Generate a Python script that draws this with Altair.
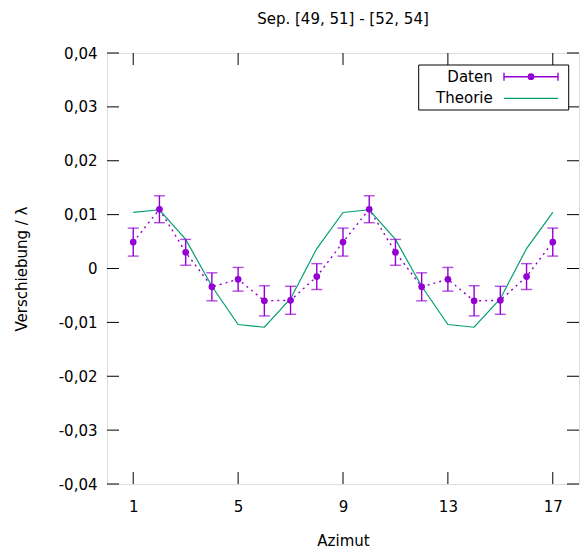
import altair as alt
import pandas as pd

# ---- data ----
azimut = list(range(1, 18))
daten = [0.0049, 0.0110, 0.0030, -0.0034, -0.0020, -0.0060, -0.0059, -0.0015,
         0.0049, 0.0110, 0.0030, -0.0034, -0.0020, -0.0060, -0.0059, -0.0015, 0.0049]
fehler = [0.0026, 0.0025, 0.0024, 0.0026, 0.0022, 0.0028, 0.0026, 0.0024,
          0.0026, 0.0025, 0.0024, 0.0026, 0.0022, 0.0028, 0.0026, 0.0024, 0.0026]
theorie = [0.0104, 0.0109, 0.0054, -0.0033, -0.0104, -0.0109, -0.0056, 0.0037,
           0.0104, 0.0109, 0.0054, -0.0033, -0.0104, -0.0109, -0.0056, 0.0037, 0.0104]
x_ticks = [1, 5, 9, 13, 17]
y_ticks = [-0.04, -0.03, -0.02, -0.01, 0.0, 0.01, 0.02, 0.03, 0.04]
legend_labels = ["Daten", "Theorie"]

PURPLE = "#9400D3"
GREEN = "#009E73"
FONT = "DejaVu Sans"
FS = 15
W, H = 472, 431

df = pd.DataFrame({"az": azimut, "d": daten, "e": fehler, "t": theorie})
df["lo"] = df["d"] - df["e"]
df["hi"] = df["d"] + df["e"]

xs = alt.Scale(domain=[0, 18], nice=False, zero=False)
ys = alt.Scale(domain=[-0.04, 0.04], nice=False, zero=False)

label_expr = ("datum.value == 0 ? '0' : (datum.value < 0 ? '-' : '') + "
              "replace(format(abs(datum.value), '.2f'), '.', ',')")

X = alt.X("az:Q", scale=xs, axis=alt.Axis(
    values=x_ticks, title="Azimut", tickSize=0, domain=False, grid=False,
    labelPadding=15, labelFont=FONT, labelFontSize=FS, labelColor="black",
    titleFont=FONT, titleFontSize=FS, titleFontWeight="normal", titleColor="black",
    titleY=56.5, titleBaseline="middle"))
Y = alt.Y("d:Q", scale=ys, axis=alt.Axis(
    values=y_ticks, labelExpr=label_expr, title="Verschiebung / λ", tickSize=0,
    domain=False, grid=False, labelPadding=10, labelFont=FONT, labelFontSize=FS,
    labelColor="black", titleFont=FONT, titleFontSize=FS, titleFontWeight="normal",
    titleColor="black", titleX=-85.5, titleY=H / 2, titleAngle=-90,
    titleAlign="center", titleBaseline="middle"))

base = alt.Chart(df)

data_line = base.mark_line(color=PURPLE, strokeDash=[2, 4], strokeWidth=1.4).encode(x=X, y=Y)
theory_line = base.mark_line(color=GREEN, strokeWidth=1.2).encode(
    x=alt.X("az:Q", scale=xs), y=alt.Y("t:Q", scale=ys))
err_rule = base.mark_rule(color=PURPLE, strokeWidth=1.4).encode(
    x=alt.X("az:Q", scale=xs), y=alt.Y("lo:Q", scale=ys), y2="hi:Q")
cap_lo = base.mark_tick(color=PURPLE, orient="horizontal", size=11, thickness=1.4).encode(
    x=alt.X("az:Q", scale=xs), y=alt.Y("lo:Q", scale=ys))
cap_hi = base.mark_tick(color=PURPLE, orient="horizontal", size=11, thickness=1.4).encode(
    x=alt.X("az:Q", scale=xs), y=alt.Y("hi:Q", scale=ys))
points = base.mark_point(color=PURPLE, filled=True, opacity=1, size=45, shape="circle").encode(
    x=alt.X("az:Q", scale=xs), y=alt.Y("d:Q", scale=ys))

# inward ticks on all four sides
xt = alt.Chart(pd.DataFrame({"v": x_ticks}))
yt = alt.Chart(pd.DataFrame({"v": y_ticks}))
tick_b = xt.mark_rule(color="black", strokeWidth=1).encode(
    x=alt.X("v:Q", scale=xs), y=alt.value(H), y2=alt.value(H - 12))
tick_t = xt.mark_rule(color="black", strokeWidth=1).encode(
    x=alt.X("v:Q", scale=xs), y=alt.value(0), y2=alt.value(12))
tick_l = yt.mark_rule(color="black", strokeWidth=1).encode(
    y=alt.Y("v:Q", scale=ys), x=alt.value(0), x2=alt.value(12))
tick_r = yt.mark_rule(color="black", strokeWidth=1).encode(
    y=alt.Y("v:Q", scale=ys), x=alt.value(W), x2=alt.value(W - 12))

# legend (gnuplot style: label left of sample, in a box)
LX0, LX1, LY0, LY1 = 311.7, 461.7, 12, 57
TX, S0, S1, SP = 385.7, 397, 451, 424
R1, R2 = 23.7, 45.3
leg_box = alt.Chart(pd.DataFrame({"a": [0]})).mark_rect(
    fill="white", stroke="black", strokeWidth=1).encode(
    x=alt.value(LX0), x2=alt.value(LX1), y=alt.value(LY0), y2=alt.value(LY1))
leg_text = alt.Chart(pd.DataFrame({"lab": legend_labels, "yy": [R1, R2]})).mark_text(
    align="right", baseline="middle", font=FONT, fontSize=FS, color="black").encode(
    text="lab:N", x=alt.value(TX), y=alt.Y("yy:Q", scale=None))
leg_d_line = alt.Chart(pd.DataFrame({"a": [0]})).mark_rule(color=PURPLE, strokeWidth=1.4).encode(
    x=alt.value(S0), x2=alt.value(S1), y=alt.value(R1))
leg_d_caps = alt.Chart(pd.DataFrame({"xx": [S0, S1]})).mark_rule(color=PURPLE, strokeWidth=1.4).encode(
    x=alt.X("xx:Q", scale=None), y=alt.value(R1 - 4), y2=alt.value(R1 + 4))
leg_d_pt = alt.Chart(pd.DataFrame({"a": [0]})).mark_point(
    color=PURPLE, filled=True, opacity=1, size=45, shape="circle").encode(
    x=alt.value(SP), y=alt.value(R1))
leg_t_line = alt.Chart(pd.DataFrame({"a": [0]})).mark_rule(color=GREEN, strokeWidth=1.2).encode(
    x=alt.value(S0), x2=alt.value(S1), y=alt.value(R2))

chart = alt.layer(
    data_line, theory_line, err_rule, cap_lo, cap_hi, points,
    tick_b, tick_t, tick_l, tick_r,
    leg_box, leg_text, leg_d_line, leg_d_caps, leg_d_pt, leg_t_line,
).properties(
    width=W, height=H,
    title=alt.TitleParams("Sep. [49, 51] - [52, 54]", font=FONT, fontSize=FS,
                          fontWeight="normal", color="black", anchor="middle", offset=19),
    autosize=alt.AutoSizeParams(type="none"),
    padding={"left": 99, "top": 45, "right": 1, "bottom": 70},
).configure_view(stroke="black", strokeWidth=1).configure(background="white")

chart.save("out.html", embed_options={"renderer": "svg", "actions": False})
